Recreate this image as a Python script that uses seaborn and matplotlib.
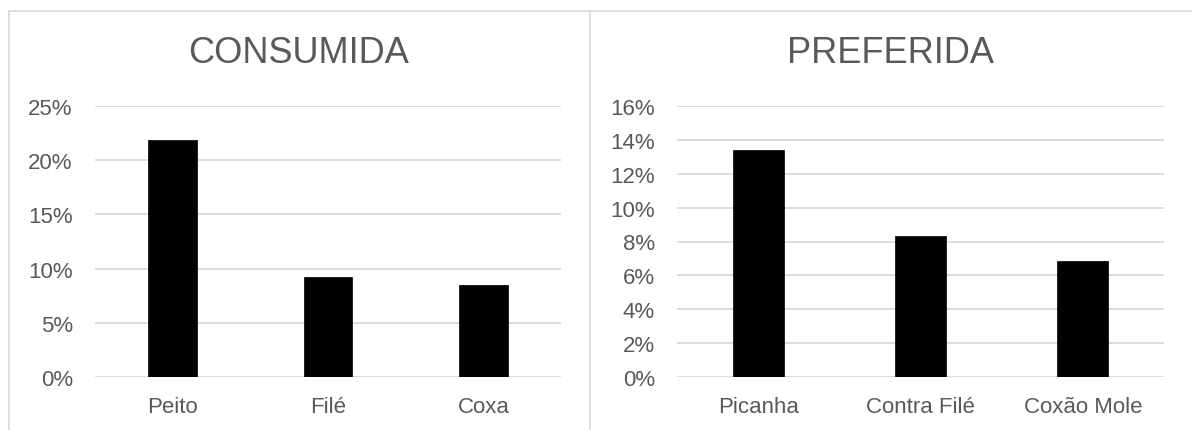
import matplotlib
matplotlib.use("Agg")
import matplotlib.pyplot as plt
from matplotlib.lines import Line2D
from matplotlib.ticker import PercentFormatter, MultipleLocator
import seaborn as sns
import pandas as pd

consumida_cats = ["Peito", "Filé", "Coxa"]
consumida_vals = [0.2186, 0.0924, 0.0853]
preferida_cats = ["Picanha", "Contra Filé", "Coxão Mole"]
preferida_vals = [0.134, 0.0835, 0.0684]

sns.set_style("white")
plt.rcParams["font.family"] = ["Liberation Sans", "DejaVu Sans"]

TEXT = "#595959"
GRID = "#d9d9d9"

W, H = 1192, 431
fig = plt.figure(figsize=(W / 100, H / 100), dpi=100)

def px_axes(x0, x1, ytop, ybot):
    return fig.add_axes([x0 / W, 1 - ybot / H, (x1 - x0) / W, (ybot - ytop) / H])

ax1 = px_axes(95, 561, 107, 378)
ax2 = px_axes(677, 1164, 107, 378)

panels = [
    (ax1, consumida_cats, consumida_vals, 0.25, 0.05),
    (ax2, preferida_cats, preferida_vals, 0.16, 0.02),
]

for ax, cats, vals, ymax, step in panels:
    df = pd.DataFrame({"cat": cats, "val": vals})
    sns.barplot(data=df, x="cat", y="val", color="black", width=0.315,
                saturation=1, ax=ax, zorder=3, edgecolor="black", linewidth=0.5)
    ax.set_ylim(0, ymax)
    ax.set_xlim(-0.5, 2.5)
    ax.yaxis.set_major_locator(MultipleLocator(step))
    ax.yaxis.set_major_formatter(PercentFormatter(xmax=1, decimals=0))
    ax.grid(axis="y", color=GRID, linewidth=1.3, zorder=0)
    ax.set_axisbelow(True)
    for s in ax.spines.values():
        s.set_visible(False)
    ax.set_xlabel("")
    ax.set_ylabel("")
    ax.tick_params(axis="both", length=0, labelsize=16, colors=TEXT)
    ax.tick_params(axis="y", pad=16)
    ax.tick_params(axis="x", pad=14)
    ax.patch.set_alpha(0)

fig.text(299 / W, 1 - 53.5 / H, "CONSUMIDA", ha="center", va="center",
         fontsize=26, color=TEXT)
fig.text(891 / W, 1 - 53.5 / H, "PREFERIDA", ha="center", va="center",
         fontsize=26, color=TEXT)

# panel borders
bc = GRID
fig.add_artist(Line2D([8.5 / W, 1.0], [1 - 12 / H, 1 - 12 / H], color=bc, lw=1.2))
fig.add_artist(Line2D([8.5 / W, 8.5 / W], [0, 1 - 12 / H], color=bc, lw=1.2))
fig.add_artist(Line2D([590 / W, 590 / W], [0, 1 - 12 / H], color=bc, lw=1.2))

fig.savefig("out.png", dpi=100, facecolor="white")
